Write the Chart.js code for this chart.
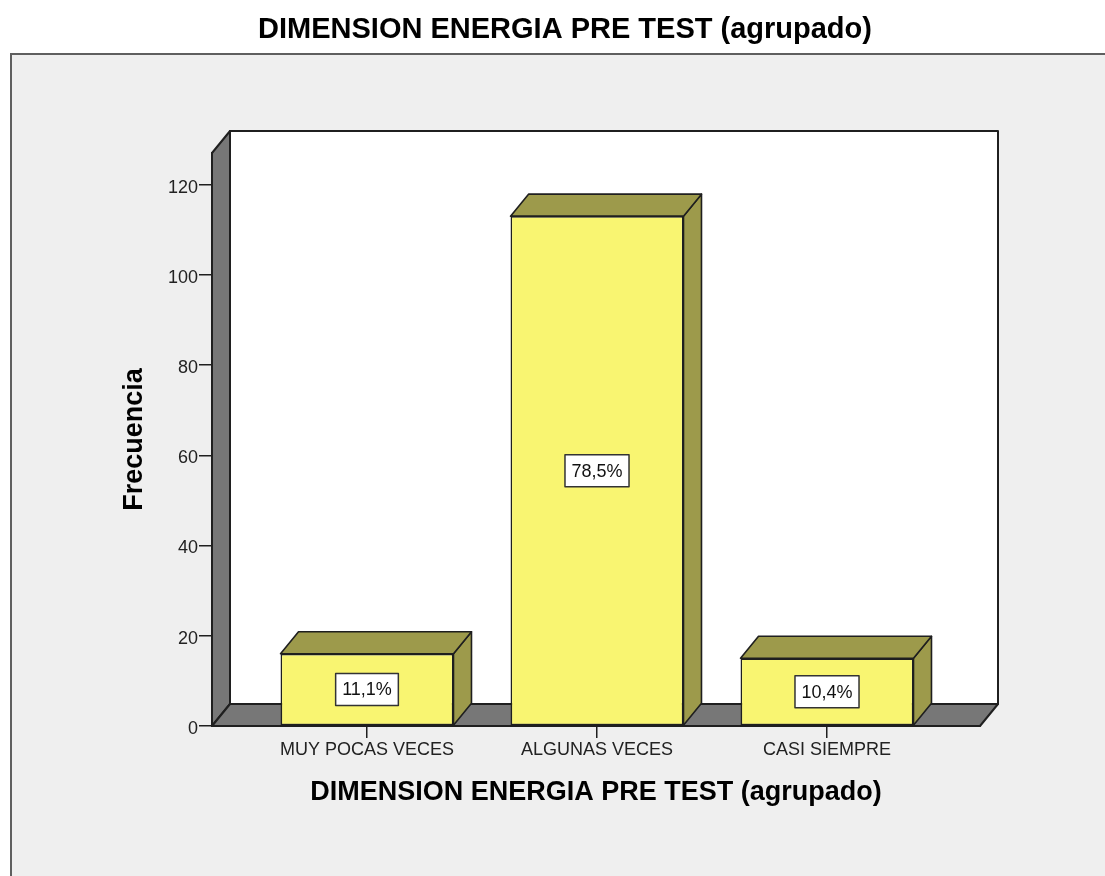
<!DOCTYPE html>
<html lang="es">
<head>
<meta charset="utf-8">
<title>DIMENSION ENERGIA PRE TEST (agrupado)</title>
<script src="https://cdn.jsdelivr.net/npm/chart.js@4.4.1/dist/chart.umd.min.js"></script>
<style>
    html, body { margin: 0; padding: 0; background: #ffffff; }
    canvas { display: block; }
</style>
</head>
<body>
<canvas id="energiaChart" width="1105" height="876"></canvas>
<script>
const categories = ['MUY POCAS VECES', 'ALGUNAS VECES', 'CASI SIEMPRE'];
const frequencies = [16, 113, 15];
const percentLabels = ['11,1%', '78,5%', '10,4%'];
const yTicks = [0, 20, 40, 60, 80, 100, 120];
const yMax = 127;

// profundidad del efecto 3D (px)
const DEPTH_X = 18;
const DEPTH_Y = 22;

const FONT = '"Liberation Sans", Arial, sans-serif';
const OUTLINE = '#1f1f1f';

function poly(ctx, pts, fill, stroke, lw) {
    ctx.beginPath();
    ctx.moveTo(pts[0][0], pts[0][1]);
    for (let i = 1; i < pts.length; i++) ctx.lineTo(pts[i][0], pts[i][1]);
    ctx.closePath();
    ctx.fillStyle = fill;
    ctx.fill();
    ctx.lineJoin = 'round';
    ctx.lineWidth = lw;
    ctx.strokeStyle = stroke;
    ctx.stroke();
}

// fondo, paredes y piso del gráfico 3D + caras laterales de las barras
const spss3d = {
    id: 'spss3d',
    beforeDraw(chart) {
        const { ctx, width, height } = chart;
        const x = chart.scales.x, y = chart.scales.y;
        ctx.save();
        ctx.fillStyle = '#ffffff';
        ctx.fillRect(0, 0, width, height);
        ctx.fillStyle = '#efefef';
        ctx.fillRect(10, 53, width - 10, height - 53);
        ctx.strokeStyle = '#5f5f5f';
        ctx.lineWidth = 2;
        ctx.beginPath();
        ctx.moveTo(11, height);
        ctx.lineTo(11, 54);
        ctx.lineTo(width, 54);
        ctx.stroke();

        const l = x.left, r = x.right;
        const t = y.getPixelForValue(yMax), b = y.getPixelForValue(0);
        // pared del fondo
        poly(ctx, [[l + DEPTH_X, t - DEPTH_Y], [r + DEPTH_X, t - DEPTH_Y], [r + DEPTH_X, b - DEPTH_Y], [l + DEPTH_X, b - DEPTH_Y]], '#ffffff', OUTLINE, 2);
        // pared izquierda
        poly(ctx, [[l, t], [l + DEPTH_X, t - DEPTH_Y], [l + DEPTH_X, b - DEPTH_Y], [l, b]], '#777777', OUTLINE, 2);
        // piso
        poly(ctx, [[l, b], [l + DEPTH_X, b - DEPTH_Y], [r + DEPTH_X, b - DEPTH_Y], [r, b]], '#777777', OUTLINE, 2);
        ctx.restore();
    },
    afterDatasetsDraw(chart) {
        const ctx = chart.ctx;
        const meta = chart.getDatasetMeta(0);
        ctx.save();
        meta.data.forEach((bar, i) => {
            const p = bar.getProps(['x', 'y', 'base', 'width'], true);
            const l = p.x - p.width / 2, r = p.x + p.width / 2;
            const top = p.y, bottom = p.base;
            // cara derecha
            poly(ctx, [[r, top], [r + DEPTH_X, top - DEPTH_Y], [r + DEPTH_X, bottom - DEPTH_Y], [r, bottom]], '#9d9a4b', OUTLINE, 1.6);
            // cara superior
            poly(ctx, [[l, top], [l + DEPTH_X, top - DEPTH_Y], [r + DEPTH_X, top - DEPTH_Y], [r, top]], '#9d9a4b', OUTLINE, 1.6);

            // etiqueta de porcentaje
            const cy = (top + bottom) / 2;
            ctx.font = '18px ' + FONT;
            const tw = ctx.measureText(percentLabels[i]).width;
            const bw = tw + 13, bh = 32;
            ctx.fillStyle = '#ffffff';
            ctx.fillRect(p.x - bw / 2, cy - bh / 2, bw, bh);
            ctx.lineWidth = 1.5;
            ctx.strokeStyle = '#333333';
            ctx.strokeRect(p.x - bw / 2, cy - bh / 2, bw, bh);
            ctx.fillStyle = '#111111';
            ctx.textAlign = 'center';
            ctx.textBaseline = 'middle';
            ctx.fillText(percentLabels[i], p.x, cy + 1);
        });
        ctx.restore();
    }
};

document.addEventListener('DOMContentLoaded', () => {
    Chart.defaults.font.family = FONT;
    Chart.defaults.color = '#222222';

    const ctx = document.getElementById('energiaChart').getContext('2d');

    new Chart(ctx, {
        type: 'bar',
        data: {
            datasets: [{
                label: 'Frecuencia',
                data: frequencies.map((v, i) => ({ x: i, y: v })),
                backgroundColor: '#f9f571',
                borderColor: OUTLINE,
                borderWidth: 1.6,
                borderSkipped: false,
                categoryPercentage: 1,
                barPercentage: 0.752
            }]
        },
        options: {
            responsive: false,
            animation: false,
            layout: {
                padding: { left: 150, right: 125, top: 0, bottom: 0 }
            },
            plugins: {
                legend: { display: false },
                tooltip: { enabled: false },
                title: {
                    display: true,
                    text: 'DIMENSION ENERGIA PRE TEST (agrupado)',
                    color: '#000000',
                    font: { size: 29, weight: 'bold', lineHeight: 1.2 },
                    padding: { top: 13, bottom: 105.2 }
                }
            },
            scales: {
                x: {
                    type: 'linear',
                    offset: false,
                    min: -0.6739,
                    max: 2.6652,
                    afterBuildTicks: scale => {
                        scale.ticks = categories.map((c, i) => ({ value: i }));
                    },
                    afterFit: scale => { scale.height = 150; },
                    ticks: {
                        callback: value => categories[value],
                        maxRotation: 0,
                        autoSkip: false,
                        padding: 1,
                        color: '#222222',
                        font: { size: 18 }
                    },
                    grid: {
                        offset: false,
                        drawOnChartArea: false,
                        drawTicks: true,
                        tickLength: 12,
                        color: OUTLINE,
                        lineWidth: 1.5
                    },
                    border: { display: true, color: OUTLINE, width: 2 },
                    title: {
                        display: true,
                        text: 'DIMENSION ENERGIA PRE TEST (agrupado)',
                        color: '#000000',
                        font: { size: 27, weight: 'bold', lineHeight: 1.2 },
                        padding: { top: 0, bottom: 66.8 }
                    }
                },
                y: {
                    min: 0,
                    max: yMax,
                    afterBuildTicks: scale => {
                        scale.ticks = yTicks.map(v => ({ value: v }));
                    },
                    afterFit: scale => { scale.width = 62; },
                    ticks: {
                        padding: 1,
                        labelOffset: 3,
                        color: '#222222',
                        font: { size: 18 }
                    },
                    grid: {
                        drawOnChartArea: false,
                        drawTicks: true,
                        tickLength: 13,
                        color: OUTLINE,
                        lineWidth: 1.5
                    },
                    border: { display: true, color: OUTLINE, width: 2 },
                    title: {
                        display: true,
                        text: 'Frecuencia',
                        color: '#000000',
                        font: { size: 27, weight: 'bold', lineHeight: 1.2 },
                        padding: { top: -31.2, bottom: 0 }
                    }
                }
            }
        },
        plugins: [spss3d]
    });
});
</script>
</body>
</html>
